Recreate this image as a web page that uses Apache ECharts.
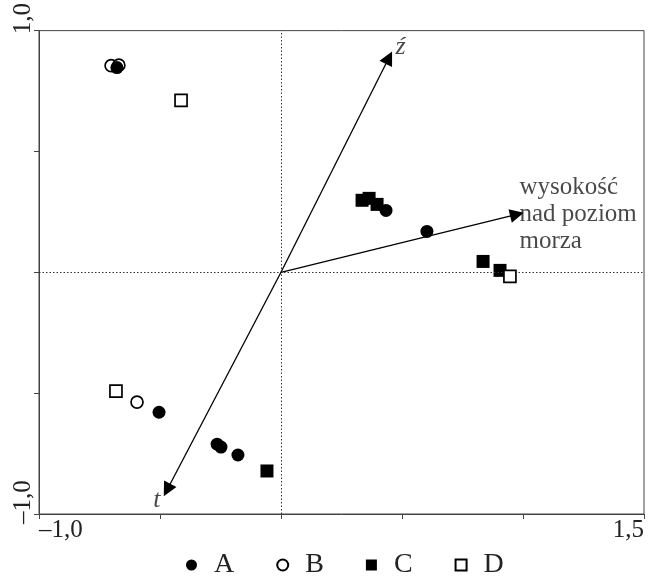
<!DOCTYPE html>
<html>
<head>
<meta charset="utf-8">
<script src="https://cdn.jsdelivr.net/npm/echarts@6/dist/echarts.min.js"></script>
<style>html,body{margin:0;padding:0;background:#fff}#c{width:650px;height:576px}</style>
</head>
<body>
<div id="c"></div>
<script>
// ---- data ----
const groupNames = ['A', 'B', 'C', 'D'];
const groupA = [[-0.678, 0.847], [-0.504, -0.579], [-0.264, -0.711], [-0.248, -0.723], [-0.178, -0.756], [0.434, 0.256], [0.603, 0.169]];
const groupB = [[-0.702, 0.855], [-0.670, 0.857], [-0.595, -0.537]];
const groupC = [[0.335, 0.298], [0.364, 0.306], [0.397, 0.281], [0.835, 0.045], [0.905, 0.008], [-0.058, -0.822]];
const groupD = [[-0.413, 0.711], [0.946, -0.017], [-0.682, -0.492]];
const vectorNames = ['ź', 'wysokość\nnad poziom\nmorza', 't'];
const vectorEnds = [[0.446, 0.888], [0.975, 0.240], [-0.471, -0.901]];
const xLabelValues = [-1, 1.5];
const xLabelTexts = ['\u20131,0', '1,5'];
const yLabelValues = [-1, 1];
const yLabelTexts = ['\u20131,0', '1,0'];

const FONT = '"Liberation Serif", "DejaVu Serif", serif';
const chart = echarts.init(document.getElementById('c'), null, {renderer: 'canvas'});

function lab(values, texts) {
  return function (v) {
    for (let i = 0; i < values.length; i++) if (Math.abs(v - values[i]) < 1e-9) return texts[i];
    return '';
  };
}

const filled = {color: '#000', borderColor: '#000', borderWidth: 0, opacity: 1};
const open = {color: '#fff', borderColor: '#000', borderWidth: 1.7, opacity: 1};

const option = {
  animation: false,
  backgroundColor: '#fff',
  grid: {left: 39, right: 6, top: 29, bottom: 62, show: true, borderColor: '#444', borderWidth: 1, backgroundColor: 'transparent'},
  xAxis: {
    type: 'value', min: -1, max: 1.5, interval: 0.5,
    axisLine: {show: true, onZero: false, lineStyle: {color: '#444', width: 1}},
    axisTick: {show: true, length: 5, lineStyle: {color: '#444'}},
    splitLine: {show: false},
    axisLabel: {show: true, formatter: lab(xLabelValues, xLabelTexts), alignMinLabel: 'left', alignMaxLabel: 'right',
      fontFamily: FONT, fontSize: 25, color: '#222', margin: 4, showMinLabel: true, showMaxLabel: true}
  },
  yAxis: {
    type: 'value', min: -1, max: 1, interval: 0.5,
    axisLine: {show: true, onZero: false, lineStyle: {color: '#444', width: 1}},
    axisTick: {show: true, length: 5, lineStyle: {color: '#444'}},
    splitLine: {show: false},
    axisLabel: {show: true, formatter: lab(yLabelValues, yLabelTexts), rotate: 90, padding: [0, 0, 0, 24],
      fontFamily: FONT, fontSize: 25, color: '#222', margin: 3, showMinLabel: true, showMaxLabel: true}
  },
  legend: {
    top: 546, left: 181,
    data: groupNames,
    itemWidth: 11, itemHeight: 11, itemGap: 42,
    textStyle: {fontFamily: FONT, fontSize: 28, color: '#222', padding: [0, 0, 0, 12]}
  },
  series: [
    {name: 'B', type: 'scatter', data: groupB, symbol: 'circle', symbolSize: 12, itemStyle: open, z: 3},
    {name: 'A', type: 'scatter', data: groupA, symbol: 'circle', symbolSize: 13, itemStyle: filled, z: 4},
    {name: 'C', type: 'scatter', data: groupC, symbol: 'rect', symbolSize: 13, itemStyle: filled, z: 4},
    {name: 'D', type: 'scatter', data: groupD, symbol: 'rect', symbolSize: 12, itemStyle: open, z: 5},
    {
      name: 'axes0', type: 'scatter', data: [], silent: true,
      markLine: {
        silent: true, symbol: ['none', 'none'], label: {show: false},
        lineStyle: {type: [1.5, 2], color: '#333', width: 1},
        data: [{xAxis: 0}, {yAxis: 0}]
      }
    },
    {
      name: 'vectors', type: 'lines', coordinateSystem: 'cartesian2d', silent: true,
      symbol: ['none', 'triangle'], symbolSize: [6, 14],
      lineStyle: {color: '#000', width: 1.3, opacity: 1},
      data: vectorEnds.map(e => ({coords: [[0, 0], e]})),
      z: 6
    },
    {
      name: 'vectorLabels', type: 'scatter', silent: true, symbol: 'circle', symbolSize: 1,
      itemStyle: {color: 'rgba(0,0,0,0)'},
      data: vectorEnds.map((e, i) => {
        const cfg = [
          {position: 'right', offset: [1, -11], fontStyle: 'italic', fontSize: 26, align: 'left'},
          {position: 'right', offset: [-3, 0], fontStyle: 'normal', fontSize: 25, align: 'left'},
          {position: 'left', offset: [-1, 10], fontStyle: 'italic', fontSize: 26, align: 'right'}
        ][i];
        return {value: e, label: {show: true, formatter: vectorNames[i], position: cfg.position, offset: cfg.offset,
          fontStyle: cfg.fontStyle, fontSize: cfg.fontSize, fontFamily: FONT, color: '#1a1a1a', lineHeight: 27, align: cfg.align}};
      }),
      z: 7
    }
  ]
};
chart.setOption(option);
</script>
</body>
</html>
